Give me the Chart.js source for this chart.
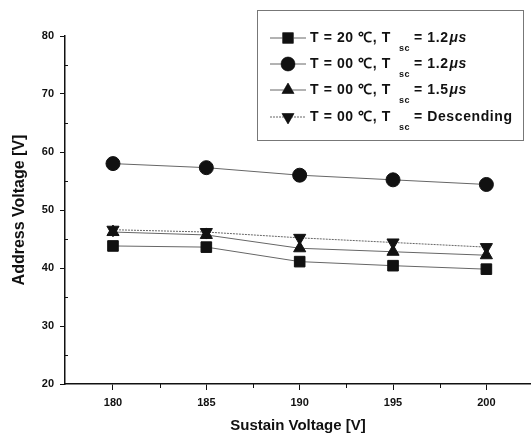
<!DOCTYPE html>
<html>
<head>
<meta charset="utf-8">
<script src="https://cdn.jsdelivr.net/npm/chart.js@4.4.0/dist/chart.umd.min.js"></script>
<style>
  html, body { margin: 0; padding: 0; background: #fff; overflow: hidden; }
</style>
</head>
<body>
<canvas id="chart" width="531" height="439"></canvas>
<script>
const sustainVoltage = [180, 185, 190, 195, 200];
const t20_12 = [43.8, 43.6, 41.1, 40.4, 39.8];
const t00_12 = [58.0, 57.3, 56.0, 55.2, 54.4];
const t00_15 = [46.2, 45.7, 43.4, 42.8, 42.2];
const t00_desc = [46.6, 46.2, 45.2, 44.4, 43.6];
const xTicks = [180, 185, 190, 195, 200];
const yTicks = [20, 30, 40, 50, 60, 70, 80];

const legendLabels = [
    ['T = 20 \u2103, T', 'sc', '= 1.2', '\u03bcs'],
    ['T = 00 \u2103, T', 'sc', '= 1.2', '\u03bcs'],
    ['T = 00 \u2103, T', 'sc', '= 1.5', '\u03bcs'],
    ['T = 00 \u2103, T', 'sc', '= Descending', '']
];

function points(values) {
    return values.map((v, i) => ({x: sustainVoltage[i], y: v}));
}

function makeSet(label, values, style, dash) {
    return {
        label: label,
        data: points(values),
        borderColor: '#666',
        borderWidth: 1,
        borderDash: dash,
        backgroundColor: '#111',
        pointBorderColor: '#111',
        pointStyle: style,
        pointRadius: 7,
        pointRotation: 0
    };
}

const ds = [
    makeSet('a', t20_12, 'rect', []),
    makeSet('b', t00_12, 'circle', []),
    makeSet('c', t00_15, 'triangle', []),
    makeSet('d', t00_desc, 'triangle', [2, 1])
];
ds[3].pointRotation = 180;
ds[0].pointRadius = 7.5;

// minor ticks and the boxed legend with subscripts
const extras = {
    id: 'extras',
    afterDraw(chart) {
        const c = chart.ctx;
        const xs = chart.scales.x, ys = chart.scales.y;
        c.save();
        c.strokeStyle = '#111';
        c.lineWidth = 1;
        [182.5, 187.5, 192.5, 197.5].forEach(v => {
            const px = Math.round(xs.getPixelForValue(v)) + 0.5;
            c.beginPath(); c.moveTo(px, ys.bottom); c.lineTo(px, ys.bottom + 4); c.stroke();
        });
        [25, 35, 45, 55, 65, 75].forEach(v => {
            const py = Math.round(ys.getPixelForValue(v)) + 0.5;
            c.beginPath(); c.moveTo(xs.left, py); c.lineTo(xs.left + 3, py); c.stroke();
        });

        // legend box
        c.strokeStyle = '#777';
        c.strokeRect(257.5, 10.5, 266, 130);
        const rows = [38, 64, 90, 117];
        rows.forEach((y, i) => {
            const set = chart.data.datasets[i];
            c.strokeStyle = '#666';
            c.setLineDash(set.borderDash);
            c.beginPath(); c.moveTo(270, y); c.lineTo(306, y); c.stroke();
            c.setLineDash([]);
            Chart.helpers.drawPoint(c, {
                pointStyle: set.pointStyle,
                radius: set.pointRadius,
                rotation: set.pointRotation,
                borderWidth: 1
            }, 288, y);
            c.fillStyle = '#111';
            c.fill();
            const lbl = legendLabels[i];
            c.textBaseline = 'middle';
            c.letterSpacing = '0.6px';
            c.font = 'bold 14px "Liberation Sans", Arial';
            c.fillText(lbl[0], 310, y);
            c.font = 'bold 9px "Liberation Sans", Arial';
            c.fillText(lbl[1], 399, y + 11);
            c.font = 'bold 14px "Liberation Sans", Arial';
            c.fillText(lbl[2], 414, y);
            const x = 414 + c.measureText(lbl[2]).width + 1;
            c.font = 'italic bold 14px "Liberation Sans", Arial';
            c.fillText(lbl[3], x, y);
        });
        c.restore();
    }
};

new Chart(document.getElementById('chart'), {
    type: 'line',
    data: {datasets: ds},
    plugins: [extras],
    options: {
        responsive: false,
        animation: false,
        layout: {autoPadding: false, padding: {top: 36, right: 0, left: 0, bottom: 0}},
        plugins: {legend: {display: false}, tooltip: {enabled: false}},
        scales: {
            x: {
                type: 'linear',
                min: 177.43,
                max: 202.39,
                afterBuildTicks: (s) => { s.ticks = xTicks.map(v => ({value: v})); },
                afterFit: (s) => { s.height = 55; },
                border: {color: '#111', width: 1.5},
                grid: {drawOnChartArea: false, tickLength: 6, color: '#111'},
                ticks: {color: '#111', font: {family: '"Liberation Sans", Arial', size: 11, weight: 'bold'}, padding: 6},
                title: {display: true, text: 'Sustain Voltage [V]', color: '#111',
                    font: {family: '"Liberation Sans", Arial', size: 15, weight: 'bold'}, padding: {top: 4}}
            },
            y: {
                min: 20,
                max: 80,
                afterBuildTicks: (s) => { s.ticks = yTicks.map(v => ({value: v})); },
                afterFit: (s) => { s.width = 65; },
                border: {color: '#111', width: 1.5},
                grid: {drawOnChartArea: false, tickLength: 5, color: '#111'},
                ticks: {color: '#111', font: {family: '"Liberation Sans", Arial', size: 11, weight: 'bold'}, padding: 6},
                title: {display: true, text: 'Address Voltage [V]', color: '#111',
                    font: {family: '"Liberation Sans", Arial', size: 16, weight: 'bold'}, padding: {top: 10, bottom: 0}}
            }
        }
    }
});
</script>
</body>
</html>
